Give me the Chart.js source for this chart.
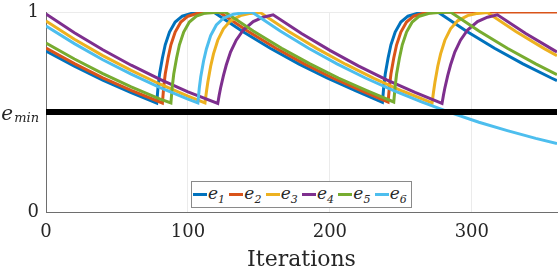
<!DOCTYPE html>
<html>
<head>
<meta charset="utf-8">
<script src="https://cdn.jsdelivr.net/npm/chart.js@4"></script>
<style>
  html, body { margin: 0; padding: 0; background: #fff; }
  #wrap { position: relative; width: 558px; height: 270px; }
  #legend {
    position: absolute; left: 191px; top: 181px; width: 221px; height: 27px;
    box-sizing: border-box; border: 1px solid #8a8a8a; background: #fff;
    display: flex; align-items: center; padding-left: 1px;
    font-family: "DejaVu Serif"; font-style: italic; color: #262626;
  }
  .item { display: flex; align-items: center; width: 36.5px; }
  .sw { display: inline-block; width: 14px; height: 3px; margin-right: 1px; }
  .lbl { font-size: 17px; line-height: 1; }
  .lbl sub { font-size: 11px; vertical-align: -4px; line-height: 1; }
</style>
</head>
<body>
<div id="wrap">
  <canvas id="chart" width="558" height="270"></canvas>
  <div id="legend"></div>
</div>
<script>
// -------------------------
//      DATA
// -------------------------

const SERIES_LABELS = ["1", "2", "3", "4", "5", "6"];
const COLORS = ["#0072BD", "#D95319", "#EDB120", "#7E2F8E", "#77AC30", "#4DBEEE"];
const X_TICKS = [0, 100, 200, 300];
const Y_TICKS = [0, 0.5, 1];
const Y_TICK_LABELS = ["0", "", "1"];
const E_MIN = 0.5;

const E1 = [[0, 0.805], [20, 0.729], [40, 0.659], [60, 0.597], [78, 0.545],
    [79, 0.63], [80, 0.69], [82, 0.77], [84, 0.836], [87, 0.90], [91, 0.95], [96, 0.979], [103, 0.994], [110, 0.998], [118, 1.0],
    [138, 0.905], [158, 0.819], [178, 0.741], [198, 0.670], [218, 0.607], [237, 0.548],
    [238, 0.63], [239, 0.69], [241, 0.77], [243, 0.836], [246, 0.90], [250, 0.95], [255, 0.979], [262, 0.994], [269, 0.998], [276, 1.0],
    [296, 0.905], [316, 0.819], [336, 0.741], [356, 0.670], [360, 0.657]];

const E2 = [[0, 0.82], [20, 0.742], [40, 0.671], [60, 0.608], [82, 0.545],
    [83, 0.63], [84, 0.69], [86, 0.77], [88, 0.836], [91, 0.90], [95, 0.95], [100, 0.979], [107, 0.994], [114, 0.998], [122, 1.0],
    [142, 0.905], [162, 0.819], [182, 0.741], [202, 0.670], [222, 0.607], [241, 0.55],
    [242, 0.63], [243, 0.69], [245, 0.77], [247, 0.836], [250, 0.90], [254, 0.95], [259, 0.979], [266, 0.994], [273, 0.998], [281, 1.0],
    [360, 1.0]];

const E3 = [[0, 0.955], [20, 0.864], [40, 0.782], [60, 0.708], [80, 0.640], [100, 0.579], [112, 0.545],
    [113, 0.60], [114, 0.649], [116, 0.729], [118, 0.791], [121, 0.859], [125, 0.916], [130, 0.956], [137, 0.982], [144, 0.993], [151, 0.997],
    [171, 0.902], [191, 0.817], [211, 0.739], [231, 0.668], [251, 0.605], [272, 0.545],
    [273, 0.60], [274, 0.649], [276, 0.729], [278, 0.791], [281, 0.859], [285, 0.916], [290, 0.956], [297, 0.982], [304, 0.993], [311, 0.997],
    [331, 0.902], [351, 0.817], [360, 0.782]];

const E4 = [[0, 0.99], [20, 0.896], [40, 0.811], [60, 0.734], [80, 0.664], [100, 0.601], [121, 0.543],
    [122, 0.584], [123, 0.62], [125, 0.682], [127, 0.735], [130, 0.80], [134, 0.859], [139, 0.91], [146, 0.952], [153, 0.974], [160, 0.986],
    [180, 0.892], [200, 0.808], [220, 0.731], [240, 0.661], [260, 0.598], [279, 0.543],
    [280, 0.584], [281, 0.62], [283, 0.682], [285, 0.735], [288, 0.80], [292, 0.859], [297, 0.91], [304, 0.952], [311, 0.974], [318, 0.986],
    [338, 0.892], [358, 0.808], [360, 0.80]];

const E5 = [[0, 0.845], [20, 0.765], [40, 0.692], [60, 0.626], [80, 0.566], [88, 0.545],
    [89, 0.63], [90, 0.69], [92, 0.77], [94, 0.836], [97, 0.90], [101, 0.95], [106, 0.979], [112, 0.994], [119, 0.998], [126, 1.0],
    [146, 0.905], [166, 0.819], [186, 0.741], [206, 0.670], [226, 0.607], [245, 0.55],
    [246, 0.63], [247, 0.69], [249, 0.77], [251, 0.836], [254, 0.90], [258, 0.95], [263, 0.979], [270, 0.994], [277, 0.998], [285, 1.0],
    [305, 0.905], [325, 0.819], [345, 0.741], [360, 0.687]];

const E6 = [[0, 0.93], [20, 0.842], [40, 0.761], [60, 0.689], [80, 0.623], [100, 0.564], [107, 0.545],
    [108, 0.62], [109, 0.675], [111, 0.755], [113, 0.815], [116, 0.882], [120, 0.935], [125, 0.969], [132, 0.989], [139, 0.996], [145, 1.0],
    [165, 0.905], [185, 0.819], [205, 0.741], [225, 0.670], [245, 0.607], [265, 0.549], [285, 0.497], [305, 0.449], [325, 0.407], [345, 0.368], [360, 0.342]];

const SERIES = [E1, E2, E3, E4, E5, E6];

// -------------------------

const FONT = '"DejaVu Serif"';
const TEXT = "#262626";

const datasets = SERIES.map((s, i) => ({
    label: "e" + SERIES_LABELS[i],
    data: s.map(([x, y]) => ({ x, y })),
    borderColor: COLORS[i],
    backgroundColor: "transparent",
    borderWidth: 3,
    pointRadius: 0,
    tension: 0,
    order: SERIES.length - i
}));

datasets.push({
    label: "emin",
    data: [{ x: 0, y: E_MIN }, { x: 360, y: E_MIN }],
    borderColor: "#000",
    borderWidth: 6,
    pointRadius: 0,
    order: 0
});

// e_min tick label with subscript
const eminLabel = {
    id: "eminLabel",
    afterDraw(chart) {
        const c = chart.ctx;
        const y = chart.scales.y.getPixelForValue(E_MIN);
        const right = 39;
        c.save();
        c.fillStyle = TEXT;
        c.textAlign = "right";
        c.textBaseline = "alphabetic";
        c.font = "italic 13px " + FONT;
        c.fillText("min", right, y + 10);
        const w = c.measureText("min").width;
        c.font = "italic 20px " + FONT;
        c.fillText("e", right - w - 1, y + 8);
        c.restore();
    }
};

new Chart(document.getElementById("chart").getContext("2d"), {
    type: "line",
    data: { datasets },
    plugins: [eminLabel],
    options: {
        responsive: false,
        animation: false,
        layout: { padding: { top: 12, right: 1, left: 0, bottom: 0 } },
        plugins: { legend: { display: false }, tooltip: { enabled: false } },
        scales: {
            x: {
                type: "linear", min: 0, max: 360,
                afterBuildTicks: s => { s.ticks = X_TICKS.map(v => ({ value: v })); },
                afterFit: s => { s.height = 58; },
                grid: { color: "#ebebeb", drawTicks: false },
                border: { color: "#6e6e6e", width: 1 },
                ticks: { color: TEXT, font: { family: FONT, size: 18 }, padding: 10, maxRotation: 0 },
                title: {
                    display: true, text: "Iterations", color: TEXT,
                    font: { family: FONT, size: 22, lineHeight: 1 }, padding: { top: 0, bottom: -1 }
                }
            },
            y: {
                type: "linear", min: 0, max: 1,
                afterBuildTicks: s => { s.ticks = Y_TICKS.map(v => ({ value: v })); },
                afterFit: s => { s.width = 46; s.paddingTop = 0; s.paddingBottom = 0; },
                grid: { color: "#ebebeb", drawTicks: false },
                border: { color: "#6e6e6e", width: 1 },
                ticks: {
                    color: TEXT, font: { family: FONT, size: 18 }, padding: 7,
                    callback: v => Y_TICK_LABELS[Y_TICKS.indexOf(v)]
                }
            }
        }
    }
});

// legend
const legend = document.getElementById("legend");
SERIES_LABELS.forEach((n, i) => {
    const item = document.createElement("div");
    item.className = "item";
    item.innerHTML = '<span class="sw" style="background:' + COLORS[i] + '"></span>' +
        '<span class="lbl">e<sub>' + n + '</sub></span>';
    legend.appendChild(item);
});
</script>
</body>
</html>
